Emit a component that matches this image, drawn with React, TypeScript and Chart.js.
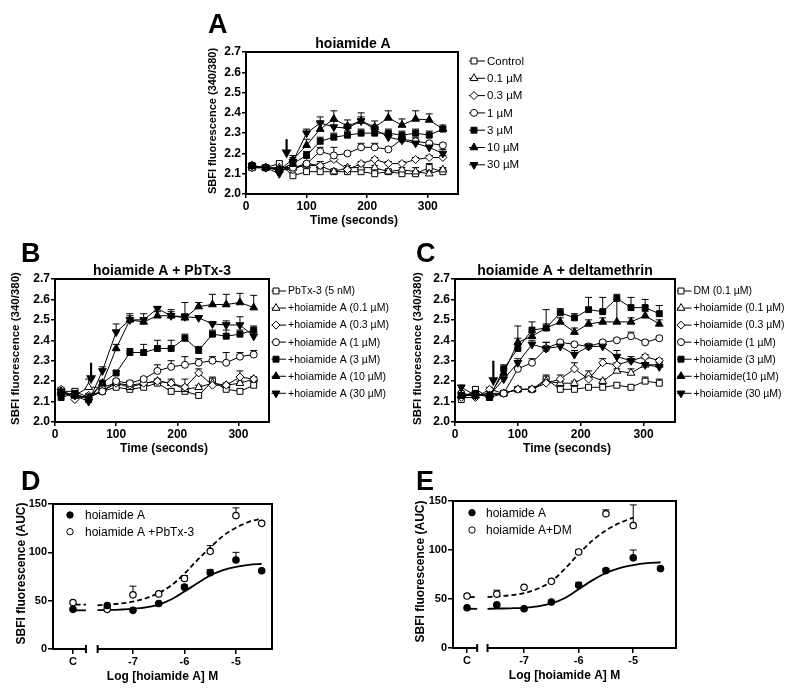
import React, { useEffect, useRef } from "react";
import { Chart, registerables } from "chart.js";

Chart.register(...registerables);

const FONT = "'Liberation Sans', Arial, Helvetica, sans-serif";
Chart.defaults.font.family = FONT;
Chart.defaults.color = "#000";

// ---------- shared axes ----------
const TIME_S = [10, 32.5, 55, 77.5, 100, 122.5, 145, 167.5, 190, 212.5, 235, 257.5, 280, 302.5, 325];
const TIME_X_TICKS = [0, 100, 200, 300];
const RATIO_Y_TICKS = [2.0, 2.1, 2.2, 2.3, 2.4, 2.5, 2.6, 2.7];
const Y_TITLE_RATIO = "SBFI fluorescence (340/380)";
const X_TITLE_TIME = "Time (seconds)";

// ---------- Panel A ----------
const A_TITLE = "hoiamide A";
const A_LABELS = ["Control", "0.1 \u00b5M", "0.3 \u00b5M", "1 \u00b5M", "3 \u00b5M", "10 \u00b5M", "30 \u00b5M"];
const A_CONTROL = [2.13, 2.13, 2.15, 2.09, 2.11, 2.11, 2.11, 2.11, 2.11, 2.10, 2.11, 2.10, 2.10, 2.13, 2.11];
const A_01 = [2.13, 2.13, 2.13, 2.13, 2.14, 2.14, 2.11, 2.13, 2.13, 2.13, 2.11, 2.12, 2.11, 2.10, 2.12];
const A_03 = [2.13, 2.13, 2.12, 2.12, 2.15, 2.14, 2.17, 2.12, 2.15, 2.17, 2.15, 2.15, 2.17, 2.18, 2.18];
const A_1 = [2.13, 2.13, 2.12, 2.13, 2.15, 2.21, 2.19, 2.20, 2.23, 2.23, 2.22, 2.27, 2.26, 2.25, 2.24];
const A_3 = [2.14, 2.13, 2.12, 2.15, 2.19, 2.26, 2.28, 2.29, 2.30, 2.30, 2.30, 2.29, 2.30, 2.29, 2.32];
const A_10 = [2.14, 2.13, 2.12, 2.17, 2.24, 2.32, 2.37, 2.335, 2.36, 2.33, 2.375, 2.34, 2.37, 2.365, 2.32];
const A_30 = [2.14, 2.13, 2.10, 2.16, 2.30, 2.35, 2.33, 2.325, 2.36, 2.32, 2.28, 2.265, 2.25, 2.23, 2.20];
const A_ERR_CONTROL = [0.01, 0.005, 0.01, 0.01, 0.01, 0.01, 0.01, 0.01, 0.01, 0.01, 0.01, 0.01, 0.01, 0.02, 0.01];
const A_ERR_01 = [0.01, 0.01, 0.01, 0.01, 0.01, 0.01, 0.01, 0.01, 0.01, 0.01, 0.01, 0.01, 0.02, 0.01, 0.01];
const A_ERR_03 = [0.01, 0.01, 0.01, 0.01, 0.01, 0.02, 0.02, 0.01, 0.01, 0.01, 0.01, 0.01, 0.01, 0.01, 0.01];
const A_ERR_1 = [0.01, 0.01, 0.01, 0.01, 0.01, 0.02, 0.04, 0.01, 0.02, 0.02, 0.01, 0.01, 0.02, 0.01, 0.01];
const A_ERR_3 = [0.01, 0.01, 0.01, 0.02, 0.02, 0.02, 0.02, 0.02, 0.02, 0.02, 0.02, 0.02, 0.02, 0.02, 0.01];
const A_ERR_10 = [0.01, 0.01, 0.01, 0.02, 0.03, 0.03, 0.04, 0.03, 0.04, 0.03, 0.035, 0.03, 0.04, 0.03, 0.02];
const A_ERR_30 = [0.01, 0.01, 0.01, 0.02, 0.02, 0.03, 0.03, 0.02, 0.02, 0.02, 0.02, 0.02, 0.02, 0.02, 0.02];
const A_ARROW = { t: 67, from: 2.27, to: 2.175 };

// ---------- Panel B ----------
const B_TITLE = "hoiamide A + PbTx-3";
const B_LABELS = [
  "PbTx-3 (5 nM)",
  "+hoiamide A (0.1 \u00b5M)",
  "+hoiamide A (0.3 \u00b5M)",
  "+hoiamide A (1 \u00b5M)",
  "+hoiamide A (3 \u00b5M)",
  "+hoiamide A (10 \u00b5M)",
  "+hoiamide A (30 \u00b5M)",
];
const B_PBTX = [2.15, 2.15, 2.12, 2.15, 2.17, 2.16, 2.17, 2.19, 2.15, 2.15, 2.13, 2.20, 2.16, 2.15, 2.18];
const B_01 = [2.14, 2.13, 2.17, 2.17, 2.19, 2.17, 2.19, 2.20, 2.19, 2.16, 2.17, 2.19, 2.18, 2.19, 2.21];
const B_03 = [2.16, 2.11, 2.13, 2.15, 2.19, 2.18, 2.19, 2.20, 2.19, 2.17, 2.24, 2.18, 2.18, 2.22, 2.21];
const B_1 = [2.14, 2.13, 2.12, 2.15, 2.20, 2.19, 2.21, 2.25, 2.27, 2.28, 2.29, 2.30, 2.29, 2.32, 2.33];
const B_3 = [2.12, 2.14, 2.11, 2.19, 2.24, 2.34, 2.34, 2.36, 2.36, 2.41, 2.35, 2.43, 2.42, 2.43, 2.45];
const B_10 = [2.15, 2.13, 2.12, 2.19, 2.36, 2.50, 2.49, 2.52, 2.52, 2.51, 2.565, 2.575, 2.575, 2.585, 2.56];
const B_30 = [2.15, 2.13, 2.10, 2.25, 2.44, 2.50, 2.50, 2.555, 2.52, 2.515, 2.51, 2.48, 2.475, 2.475, 2.42];
const B_ERR_PBTX = [0.01, 0.01, 0.01, 0.01, 0.01, 0.01, 0.01, 0.01, 0.01, 0.01, 0.01, 0.02, 0.01, 0.01, 0.01];
const B_ERR_01 = [0.01, 0.01, 0.04, 0.01, 0.01, 0.01, 0.01, 0.01, 0.01, 0.05, 0.01, 0.01, 0.01, 0.01, 0.01];
const B_ERR_03 = [0.01, 0.01, 0.01, 0.01, 0.01, 0.02, 0.02, 0.01, 0.02, 0.01, 0.02, 0.01, 0.01, 0.03, 0.01];
const B_ERR_1 = [0.01, 0.01, 0.01, 0.01, 0.01, 0.01, 0.01, 0.03, 0.03, 0.04, 0.02, 0.02, 0.05, 0.02, 0.02];
const B_ERR_3 = [0.01, 0.01, 0.01, 0.01, 0.01, 0.02, 0.04, 0.04, 0.04, 0.02, 0.02, 0.02, 0.03, 0.02, 0.02];
const B_ERR_10 = [0.01, 0.01, 0.01, 0.01, 0.02, 0.02, 0.02, 0.02, 0.02, 0.02, 0.02, 0.05, 0.05, 0.045, 0.06];
const B_ERR_30 = [0.01, 0.01, 0.01, 0.02, 0.04, 0.03, 0.03, 0.01, 0.03, 0.07, 0.01, 0.01, 0.02, 0.04, 0.02];
const B_ARROW = { t: 59, from: 2.29, to: 2.185 };

// ---------- Panel C ----------
const C_TITLE = "hoiamide A + deltamethrin";
const C_LABELS = [
  "DM (0.1 \u00b5M)",
  "+hoiamide (0.1 \u00b5M)",
  "+hoiamide (0.3 \u00b5M)",
  "+hoiamide (1 \u00b5M)",
  "+hoiamide (3 \u00b5M)",
  "+hoiamide(10 \u00b5M)",
  "+hoiamide (30 \u00b5M)",
];
const C_DM = [2.11, 2.16, 2.12, 2.14, 2.16, 2.16, 2.21, 2.16, 2.16, 2.17, 2.17, 2.18, 2.17, 2.20, 2.19];
const C_01 = [2.13, 2.13, 2.14, 2.14, 2.16, 2.16, 2.20, 2.19, 2.19, 2.23, 2.20, 2.25, 2.24, 2.28, 2.28];
const C_03 = [2.12, 2.12, 2.16, 2.14, 2.16, 2.16, 2.19, 2.21, 2.26, 2.21, 2.29, 2.28, 2.30, 2.32, 2.30];
const C_1 = [2.14, 2.13, 2.13, 2.14, 2.26, 2.29, 2.36, 2.39, 2.38, 2.37, 2.39, 2.40, 2.42, 2.39, 2.41];
const C_3 = [2.13, 2.14, 2.12, 2.26, 2.36, 2.45, 2.46, 2.535, 2.51, 2.55, 2.54, 2.605, 2.56, 2.56, 2.53];
const C_10 = [2.13, 2.13, 2.13, 2.24, 2.39, 2.42, 2.46, 2.49, 2.44, 2.48, 2.49, 2.49, 2.49, 2.52, 2.48];
const C_30 = [2.17, 2.13, 2.13, 2.21, 2.29, 2.38, 2.36, 2.37, 2.33, 2.37, 2.37, 2.32, 2.30, 2.28, 2.27];
const C_ERR_DM = [0.01, 0.01, 0.01, 0.01, 0.01, 0.01, 0.02, 0.01, 0.01, 0.01, 0.01, 0.01, 0.01, 0.02, 0.02];
const C_ERR_01 = [0.01, 0.01, 0.01, 0.01, 0.01, 0.01, 0.01, 0.01, 0.01, 0.02, 0.01, 0.01, 0.02, 0.01, 0.01];
const C_ERR_03 = [0.01, 0.01, 0.01, 0.01, 0.01, 0.01, 0.02, 0.02, 0.03, 0.02, 0.02, 0.01, 0.01, 0.01, 0.01];
const C_ERR_1 = [0.01, 0.01, 0.01, 0.01, 0.01, 0.02, 0.03, 0.01, 0.01, 0.01, 0.01, 0.01, 0.02, 0.01, 0.01];
const C_ERR_3 = [0.01, 0.01, 0.01, 0.02, 0.11, 0.04, 0.09, 0.02, 0.02, 0.06, 0.07, 0.02, 0.05, 0.04, 0.04];
const C_ERR_10 = [0.01, 0.01, 0.01, 0.02, 0.02, 0.02, 0.02, 0.02, 0.02, 0.02, 0.02, 0.11, 0.02, 0.02, 0.02];
const C_ERR_30 = [0.01, 0.01, 0.01, 0.02, 0.02, 0.02, 0.03, 0.02, 0.02, 0.01, 0.02, 0.03, 0.02, 0.03, 0.02];
const C_ARROW = { t: 61, from: 2.30, to: 2.175 };

// ---------- dose-response panels ----------
const DOSE_X_TICKS = ["C", -7, -6, -5];
const AUC_Y_TICKS = [0, 50, 100, 150];
const Y_TITLE_AUC = "SBFI fluorescence (AUC)";
const X_TITLE_DOSE = "Log [hoiamide A] M";

// Panel D
const D_DOSES = ["C", -7.5, -7, -6.5, -6, -5.5, -5, -4.5];
const D_HOIA = [41, 45, 40, 47, 64, 79, 92, 81];
const D_HOIA_ERR = [0, 0, 0, 0, 2, 3, 8, 0];
const D_PBTX = [48, 41, 56, 57, 73, 101, 138, 130];
const D_PBTX_ERR = [0, 0, 9, 0, 3, 6, 8, 0];
const D_FIT_HOIA_X = [-7.69, -7.5, -7.25, -7, -6.75, -6.5, -6.25, -6, -5.75, -5.5, -5.25, -5, -4.75, -4.5];
const D_FIT_HOIA = [40.2, 40.4, 40.8, 41.5, 43, 46, 51.5, 59.5, 68, 76, 81.5, 85, 87, 88];
const D_FIT_PBTX_X = [-7.69, -7.5, -7.25, -7, -6.75, -6.5, -6.25, -6, -5.75, -5.5, -5.25, -5, -4.75, -4.5];
const D_FIT_PBTX = [45.1, 46, 47, 49, 52.5, 58, 66, 78, 92, 105, 117, 125.5, 131.5, 135];
const D_CTRL_FIT_HOIA = 40;
const D_CTRL_FIT_PBTX = 46;
const D_LEGEND = ["hoiamide A", "hoiamide A +PbTx-3"];

// Panel E
const E_DOSES_HOIA = ["C", -7.5, -7, -6.5, -6, -5.5, -5, -4.5];
const E_HOIA = [41, 44, 40, 47, 64, 79, 92, 81];
const E_HOIA_ERR = [0, 0, 0, 0, 3, 2, 8, 0];
const E_DOSES_DM = ["C", -7.5, -7, -6.5, -6, -5.5, -5];
const E_DM = [53, 55, 62, 68, 98, 137, 125];
const E_DM_ERR = [0, 4, 0, 0, 2, 4, 21];
const E_FIT_HOIA_X = [-7.67, -7.5, -7.25, -7, -6.75, -6.5, -6.25, -6, -5.75, -5.5, -5.25, -5, -4.75, -4.5];
const E_FIT_HOIA = [40, 40.2, 40.5, 41, 42.5, 45.5, 51, 60, 69, 76.5, 81.5, 84.5, 86.5, 87.5];
const E_FIT_DM_X = [-7.67, -7.5, -7.25, -7, -6.75, -6.5, -6.25, -6, -5.75, -5.5, -5.25, -5];
const E_FIT_DM = [52, 52.6, 53.8, 56, 60.5, 68, 81, 96, 109.5, 120, 127.5, 133];
const E_CTRL_FIT_HOIA = 40;
const E_CTRL_FIT_DM = 52;
const E_LEGEND = ["hoiamide A", "hoiamide A+DM"];

// ---------- styles ----------
type Marker = { style: string; filled: boolean; rotation: number; radius: number };
const MARKERS: Marker[] = [
  { style: "rect", filled: false, rotation: 0, radius: 4.2 },
  { style: "triangle", filled: false, rotation: 0, radius: 4.5 },
  { style: "rectRot", filled: false, rotation: 0, radius: 4 },
  { style: "circle", filled: false, rotation: 0, radius: 3.5 },
  { style: "rect", filled: true, rotation: 0, radius: 4.2 },
  { style: "triangle", filled: true, rotation: 0, radius: 4.5 },
  { style: "triangle", filled: true, rotation: 180, radius: 4.5 },
];
const DOT_FILLED: Marker = { style: "circle", filled: true, rotation: 0, radius: 3.2 };
const DOT_OPEN: Marker = { style: "circle", filled: false, rotation: 0, radius: 3.2 };

const W = 800;
const H = 694;
const YW = 40;
const XH = 24;

function drawMarker(ctx: CanvasRenderingContext2D, m: Marker, x: number, y: number) {
  const r = m.radius;
  ctx.save();
  ctx.beginPath();
  if (m.style === "circle") {
    ctx.arc(x, y, r, 0, Math.PI * 2);
  } else if (m.style === "rect") {
    const s = r * Math.SQRT1_2;
    ctx.rect(x - s, y - s, 2 * s, 2 * s);
  } else if (m.style === "rectRot") {
    ctx.moveTo(x - r, y);
    ctx.lineTo(x, y - r);
    ctx.lineTo(x + r, y);
    ctx.lineTo(x, y + r);
    ctx.closePath();
  } else {
    let rad = (m.rotation * Math.PI) / 180;
    ctx.moveTo(x + Math.sin(rad) * r, y - Math.cos(rad) * r);
    rad += (2 * Math.PI) / 3;
    ctx.lineTo(x + Math.sin(rad) * r, y - Math.cos(rad) * r);
    rad += (2 * Math.PI) / 3;
    ctx.lineTo(x + Math.sin(rad) * r, y - Math.cos(rad) * r);
    ctx.closePath();
  }
  ctx.fillStyle = m.filled ? "#000" : "#fff";
  ctx.fill();
  ctx.strokeStyle = "#000";
  ctx.lineWidth = 1;
  ctx.stroke();
  ctx.restore();
}

function text(
  ctx: CanvasRenderingContext2D,
  s: string,
  x: number,
  y: number,
  font: string,
  align: CanvasTextAlign = "center",
  baseline: CanvasTextBaseline = "middle",
  rotate = false
) {
  ctx.save();
  ctx.font = font;
  ctx.fillStyle = "#000";
  ctx.textAlign = align;
  ctx.textBaseline = baseline;
  if (rotate) {
    ctx.translate(x, y);
    ctx.rotate(-Math.PI / 2);
    ctx.fillText(s, 0, 0);
  } else {
    ctx.fillText(s, x, y);
  }
  ctx.restore();
}

type Decor = {
  errors: (number[] | null)[];
  cap: number;
  letter: { text: string; x: number; y: number };
  title?: { text: string; x: number; y: number };
  yTitle: { text: string; x: number; y: number; size: number };
  xTitle: { text: string; x: number; y: number; size: number };
  arrow?: { t: number; from: number; to: number };
  xBreak?: { end: number; start: number };
  legend:
    | { kind: "line"; labels: string[]; markers: Marker[]; x1: number; x2: number; mx: number; tx: number; y0: number; dy: number; size: number }
    | { kind: "point"; labels: string[]; markers: Marker[]; mx: number; tx: number; y0: number; dy: number; size: number };
};

function makeDecor(d: Decor) {
  return {
    id: "decor",
    beforeDatasetsDraw(chart: any) {
      const ctx: CanvasRenderingContext2D = chart.ctx;
      const ys = chart.scales.y;
      ctx.save();
      ctx.strokeStyle = "#000";
      ctx.lineWidth = 1;
      d.errors.forEach((errs, di) => {
        if (!errs) return;
        const meta = chart.getDatasetMeta(di);
        const ds = chart.data.datasets[di];
        meta.data.forEach((pt: any, j: number) => {
          const e = errs[j];
          if (!e) return;
          const v = ds.data[j].y;
          const yTop = ys.getPixelForValue(v + e);
          ctx.beginPath();
          ctx.moveTo(pt.x, pt.y);
          ctx.lineTo(pt.x, yTop);
          ctx.moveTo(pt.x - d.cap, yTop);
          ctx.lineTo(pt.x + d.cap, yTop);
          ctx.stroke();
        });
      });
      ctx.restore();
    },
    afterDraw(chart: any) {
      const ctx: CanvasRenderingContext2D = chart.ctx;
      const a = chart.chartArea;
      const xs = chart.scales.x;
      const ys = chart.scales.y;
      ctx.save();
      ctx.strokeStyle = "#000";
      ctx.lineWidth = 2;
      ctx.lineCap = "square";
      ctx.beginPath();
      ctx.moveTo(a.left, a.top);
      ctx.lineTo(a.right, a.top);
      ctx.lineTo(a.right, a.bottom);
      ctx.stroke();
      if (d.xBreak) {
        const e = xs.getPixelForValue(d.xBreak.end);
        const s = xs.getPixelForValue(d.xBreak.start);
        ctx.lineCap = "butt";
        ctx.beginPath();
        ctx.moveTo(a.left - 1, a.bottom);
        ctx.lineTo(e, a.bottom);
        ctx.moveTo(e, a.bottom - 4);
        ctx.lineTo(e, a.bottom + 4);
        ctx.moveTo(s, a.bottom - 4);
        ctx.lineTo(s, a.bottom + 4);
        ctx.moveTo(s, a.bottom);
        ctx.lineTo(a.right + 1, a.bottom);
        ctx.stroke();
      }
      if (d.arrow) {
        const x = xs.getPixelForValue(d.arrow.t);
        const y1 = ys.getPixelForValue(d.arrow.from);
        const y2 = ys.getPixelForValue(d.arrow.to);
        ctx.lineCap = "butt";
        ctx.lineWidth = 2.2;
        ctx.beginPath();
        ctx.moveTo(x, y1);
        ctx.lineTo(x, y2 - 6);
        ctx.stroke();
        ctx.fillStyle = "#000";
        ctx.beginPath();
        ctx.moveTo(x - 5, y2 - 9);
        ctx.lineTo(x + 5, y2 - 9);
        ctx.lineTo(x, y2);
        ctx.closePath();
        ctx.fill();
      }
      ctx.restore();

      text(ctx, d.letter.text, d.letter.x, d.letter.y, `bold 27px ${FONT}`, "left", "alphabetic");
      if (d.title) text(ctx, d.title.text, d.title.x, d.title.y, `bold 14px ${FONT}`, "center", "alphabetic");
      text(ctx, d.yTitle.text, d.yTitle.x, d.yTitle.y, `bold ${d.yTitle.size}px ${FONT}`, "center", "middle", true);
      text(ctx, d.xTitle.text, d.xTitle.x, d.xTitle.y, `bold ${d.xTitle.size}px ${FONT}`, "center", "middle");

      const L = d.legend;
      L.labels.forEach((lab, i) => {
        const y = L.y0 + i * L.dy;
        if (L.kind === "line") {
          ctx.save();
          ctx.strokeStyle = "#000";
          ctx.lineWidth = 1;
          ctx.beginPath();
          ctx.moveTo(L.x1, y);
          ctx.lineTo(L.x2, y);
          ctx.stroke();
          ctx.restore();
        }
        drawMarker(ctx, L.markers[i], L.mx, y);
        text(ctx, lab, L.tx, y + 0.5, `${L.size}px ${FONT}`, "left", "middle");
      });
    },
  };
}

type Area = { l: number; t: number; r: number; b: number };

function baseScales(area: Area, xOpts: any, yOpts: any, tickSize: number, tickLen: number) {
  const grid = { display: true, drawOnChartArea: false, drawTicks: true, tickLength: tickLen, color: "#000", lineWidth: 1.5 };
  const font = { size: tickSize, weight: "bold" as const, family: FONT };
  return {
    x: {
      type: "linear",
      ...xOpts,
      afterFit: (s: any) => {
        s.height = XH;
      },
      ticks: { font, color: "#000", padding: 1, maxRotation: 0, autoSkip: false, ...(xOpts.ticks || {}) },
      grid,
      border: { display: xOpts.noBorder ? false : true, color: "#000", width: 2 },
    },
    y: {
      type: "linear",
      ...yOpts,
      afterFit: (s: any) => {
        s.width = YW;
      },
      ticks: { font, color: "#000", padding: 1, autoSkip: false, ...(yOpts.ticks || {}) },
      grid,
      border: { display: true, color: "#000", width: 2 },
    },
  };
}

function padding(area: Area) {
  return { left: area.l - YW, top: area.t, right: W - area.r, bottom: H - area.b - XH };
}

type TimePanel = {
  area: Area;
  title: string;
  labels: string[];
  series: number[][];
  errors: number[][];
  arrow: { t: number; from: number; to: number };
  letter: { text: string; x: number; y: number };
  titleX: number;
  yTitleX: number;
  yTitleSize: number;
  legend: { x1: number; x2: number; mx: number; tx: number; y0: number; dy: number; size: number };
};

function timeConfig(p: TimePanel): any {
  const a = p.area;
  return {
    type: "line",
    data: {
      datasets: p.series.map((vals, i) => ({
        label: p.labels[i],
        data: vals.map((v, j) => ({ x: TIME_S[j], y: v })),
        borderColor: "#000",
        borderWidth: 1,
        pointStyle: MARKERS[i].style,
        pointRotation: MARKERS[i].rotation,
        pointRadius: MARKERS[i].radius,
        pointHoverRadius: MARKERS[i].radius,
        pointBackgroundColor: MARKERS[i].filled ? "#000" : "#fff",
        pointBorderColor: "#000",
        pointBorderWidth: 1,
        tension: 0,
        fill: false,
        order: p.series.length - i,
      })),
    },
    options: {
      responsive: false,
      animation: false,
      events: [],
      layout: { padding: padding(a) },
      plugins: { legend: { display: false }, tooltip: { enabled: false }, title: { display: false } },
      scales: baseScales(
        a,
        {
          min: 0,
          max: 350,
          afterBuildTicks: (s: any) => {
            s.ticks = TIME_X_TICKS.map((v) => ({ value: v }));
          },
          ticks: { callback: (v: number) => String(v) },
        },
        {
          min: 2.0,
          max: 2.7,
          afterBuildTicks: (s: any) => {
            s.ticks = RATIO_Y_TICKS.map((v) => ({ value: v }));
          },
          ticks: { callback: (v: number) => v.toFixed(1) },
        },
        12,
        4
      ),
    },
    plugins: [
      makeDecor({
        errors: p.errors,
        cap: 3.5,
        letter: p.letter,
        title: { text: p.title, x: p.titleX, y: a.t - 4.5 },
        yTitle: { text: Y_TITLE_RATIO, x: p.yTitleX, y: (a.t + a.b) / 2 - 2, size: p.yTitleSize },
        xTitle: { text: X_TITLE_TIME, x: (a.l + a.r) / 2 + 2, y: a.b + 27, size: 12 },
        arrow: p.arrow,
        legend: { kind: "line", labels: p.labels, markers: MARKERS, ...p.legend },
      }),
    ],
  };
}

type DosePanel = {
  area: Area;
  xMin: number;
  xMax: number;
  ctrlX: number;
  breakEnd: number;
  breakStart: number;
  dosesA: (number | string)[];
  valsA: number[];
  errA: number[];
  dosesB: (number | string)[];
  valsB: number[];
  errB: number[];
  fitAX: number[];
  fitA: number[];
  fitBX: number[];
  fitB: number[];
  ctrlFitA: number;
  ctrlFitB: number;
  legendLabels: string[];
  letter: { text: string; x: number; y: number };
  yTitleX: number;
  legend: { mx: number; tx: number; y0: number; dy: number; size: number };
};

function doseConfig(p: DosePanel): any {
  const a = p.area;
  const xOf = (d: number | string) => (d === "C" ? p.ctrlX : (d as number));
  const pointDs = (doses: (number | string)[], vals: number[], m: Marker) => ({
    type: "line",
    data: doses.map((d, i) => ({ x: xOf(d), y: vals[i] })),
    showLine: false,
    pointStyle: "circle",
    pointRadius: m.radius,
    pointHoverRadius: m.radius,
    pointBackgroundColor: m.filled ? "#000" : "#fff",
    pointBorderColor: "#000",
    pointBorderWidth: 1.2,
    borderColor: "#000",
  });
  const lineDs = (xs: number[], ys: number[], dash: number[]) => ({
    type: "line",
    data: xs.map((x, i) => ({ x, y: ys[i] })),
    borderColor: "#000",
    borderWidth: 1.8,
    borderDash: dash,
    pointRadius: 0,
    cubicInterpolationMode: "monotone",
    fill: false,
  });
  return {
    type: "line",
    data: {
      datasets: [
        pointDs(p.dosesA, p.valsA, DOT_FILLED),
        pointDs(p.dosesB, p.valsB, DOT_OPEN),
        lineDs(p.fitAX, p.fitA, []),
        lineDs(p.fitBX, p.fitB, [5, 3]),
        lineDs([p.ctrlX, p.breakEnd], [p.ctrlFitA, p.ctrlFitA], []),
        lineDs([p.ctrlX + 0.05, p.breakEnd], [p.ctrlFitB, p.ctrlFitB], [5, 3]),
      ],
    },
    options: {
      responsive: false,
      animation: false,
      events: [],
      layout: { padding: padding(a) },
      plugins: { legend: { display: false }, tooltip: { enabled: false }, title: { display: false } },
      scales: baseScales(
        a,
        {
          min: p.xMin,
          max: p.xMax,
          noBorder: true,
          afterBuildTicks: (s: any) => {
            s.ticks = DOSE_X_TICKS.map((v) => ({ value: xOf(v) }));
          },
          ticks: { callback: (v: number) => (v === p.ctrlX ? "C" : String(v)) },
        },
        {
          min: 0,
          max: 150,
          afterBuildTicks: (s: any) => {
            s.ticks = AUC_Y_TICKS.map((v) => ({ value: v }));
          },
          ticks: { callback: (v: number) => String(v) },
        },
        11,
        5
      ),
    },
    plugins: [
      makeDecor({
        errors: [p.errA, p.errB],
        cap: 3.5,
        letter: p.letter,
        yTitle: { text: Y_TITLE_AUC, x: p.yTitleX, y: (a.t + a.b) / 2 - 3, size: 12 },
        xTitle: { text: X_TITLE_DOSE, x: (a.l + a.r) / 2 + 0, y: a.b + 28, size: 12 },
        xBreak: { end: p.breakEnd, start: p.breakStart },
        legend: { kind: "point", labels: p.legendLabels, markers: [DOT_FILLED, DOT_OPEN], ...p.legend },
      }),
    ],
  };
}

const PANEL_A: TimePanel = {
  area: { l: 246, t: 52, r: 458, b: 194 },
  title: A_TITLE,
  labels: A_LABELS,
  series: [A_CONTROL, A_01, A_03, A_1, A_3, A_10, A_30],
  errors: [A_ERR_CONTROL, A_ERR_01, A_ERR_03, A_ERR_1, A_ERR_3, A_ERR_10, A_ERR_30],
  arrow: A_ARROW,
  letter: { text: "A", x: 208, y: 33 },
  titleX: 353,
  yTitleX: 213,
  yTitleSize: 11,
  legend: { x1: 469, x2: 485, mx: 474, tx: 487, y0: 61, dy: 17.3, size: 11.5 },
};

const PANEL_B: TimePanel = {
  area: { l: 55, t: 279, r: 269, b: 422 },
  title: B_TITLE,
  labels: B_LABELS,
  series: [B_PBTX, B_01, B_03, B_1, B_3, B_10, B_30],
  errors: [B_ERR_PBTX, B_ERR_01, B_ERR_03, B_ERR_1, B_ERR_3, B_ERR_10, B_ERR_30],
  arrow: B_ARROW,
  letter: { text: "B", x: 21, y: 262 },
  titleX: 162,
  yTitleX: 16,
  yTitleSize: 11.5,
  legend: { x1: 271.5, x2: 286, mx: 276, tx: 288, y0: 291, dy: 17.05, size: 10.5 },
};

const PANEL_C: TimePanel = {
  area: { l: 455, t: 279, r: 675, b: 422 },
  title: C_TITLE,
  labels: C_LABELS,
  series: [C_DM, C_01, C_03, C_1, C_3, C_10, C_30],
  errors: [C_ERR_DM, C_ERR_01, C_ERR_03, C_ERR_1, C_ERR_3, C_ERR_10, C_ERR_30],
  arrow: C_ARROW,
  letter: { text: "C", x: 416, y: 262 },
  titleX: 565,
  yTitleX: 418,
  yTitleSize: 11.5,
  legend: { x1: 677, x2: 691.5, mx: 681, tx: 693.5, y0: 291, dy: 17.05, size: 10.5 },
};

const PANEL_D: DosePanel = {
  area: { l: 53, t: 504, r: 272, b: 649 },
  xMin: -8.553,
  xMax: -4.3,
  ctrlX: -8.165,
  breakEnd: -7.913,
  breakStart: -7.686,
  dosesA: D_DOSES,
  valsA: D_HOIA,
  errA: D_HOIA_ERR,
  dosesB: D_DOSES,
  valsB: D_PBTX,
  errB: D_PBTX_ERR,
  fitAX: D_FIT_HOIA_X,
  fitA: D_FIT_HOIA,
  fitBX: D_FIT_PBTX_X,
  fitB: D_FIT_PBTX,
  ctrlFitA: D_CTRL_FIT_HOIA,
  ctrlFitB: D_CTRL_FIT_PBTX,
  legendLabels: D_LEGEND,
  letter: { text: "D", x: 21, y: 490 },
  yTitleX: 22,
  legend: { mx: 70, tx: 85, y0: 515, dy: 16.7, size: 12 },
};

const PANEL_E: DosePanel = {
  area: { l: 453, t: 501, r: 676, b: 648 },
  xMin: -8.303,
  xMax: -4.216,
  ctrlX: -8.046,
  breakEnd: -7.86,
  breakStart: -7.67,
  dosesA: E_DOSES_HOIA,
  valsA: E_HOIA,
  errA: E_HOIA_ERR,
  dosesB: E_DOSES_DM,
  valsB: E_DM,
  errB: E_DM_ERR,
  fitAX: E_FIT_HOIA_X,
  fitA: E_FIT_HOIA,
  fitBX: E_FIT_DM_X,
  fitB: E_FIT_DM,
  ctrlFitA: E_CTRL_FIT_HOIA,
  ctrlFitB: E_CTRL_FIT_DM,
  legendLabels: E_LEGEND,
  letter: { text: "E", x: 416, y: 490 },
  yTitleX: 421,
  legend: { mx: 472, tx: 486, y0: 512.7, dy: 17.3, size: 12 },
};

function ChartCanvas({ build }: { build: () => any }) {
  const ref = useRef<HTMLCanvasElement | null>(null);
  useEffect(() => {
    if (!ref.current) return;
    const chart = new Chart(ref.current, build());
    return () => chart.destroy();
  }, []);
  return (
    <canvas
      ref={ref}
      width={W}
      height={H}
      style={{ position: "absolute", left: 0, top: 0, width: W, height: H }}
    />
  );
}

export default function App() {
  return (
    <div style={{ position: "absolute", left: 0, top: 0, width: W, height: H, background: "#fff", overflow: "hidden" }}>
      <ChartCanvas build={() => timeConfig(PANEL_A)} />
      <ChartCanvas build={() => timeConfig(PANEL_B)} />
      <ChartCanvas build={() => timeConfig(PANEL_C)} />
      <ChartCanvas build={() => doseConfig(PANEL_D)} />
      <ChartCanvas build={() => doseConfig(PANEL_E)} />
    </div>
  );
}
